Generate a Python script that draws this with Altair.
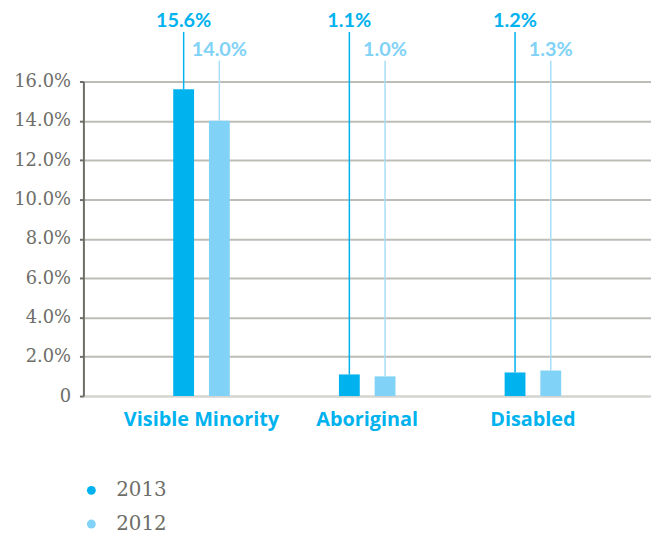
import altair as alt
import pandas as pd

categories = ["Visible Minority", "Aboriginal", "Disabled"]
years = ["2013", "2012"]
values_2013 = [15.6, 1.1, 1.2]
values_2012 = [14.0, 1.0, 1.3]
y_ticks = [0, 2, 4, 6, 8, 10, 12, 14, 16]

c13 = "#00b2ee"
c12 = "#80d2f6"

rows = []
for c, v in zip(categories, values_2013):
    rows.append({"cat": c, "year": "2013", "v": v})
for c, v in zip(categories, values_2012):
    rows.append({"cat": c, "year": "2012", "v": v})
df = pd.DataFrame(rows)
df["label"] = df["v"].map(lambda v: f"{v:.1f}%")

x = alt.X("cat:N", sort=categories,
          scale=alt.Scale(paddingInner=0.6587, paddingOuter=0.542),
          axis=alt.Axis(title=None, labelAngle=0, ticks=False, domain=True,
                        domainColor="#d4d4d0", domainWidth=2,
                        labelFont="Open Sans", labelFontWeight="bold", labelFontSize=20,
                        labelColor=c13, labelPadding=14))
xo = alt.XOffset("year:N", sort=years, scale=alt.Scale(paddingInner=0.4167, paddingOuter=0))
color = alt.Color("year:N", sort=years,
                  scale=alt.Scale(domain=years, range=[c13, c12]),
                  legend=alt.Legend(title=None, orient="none", legendX=-2, legendY=402,
                                    symbolType="circle", symbolSize=80, symbolStrokeWidth=0,
                                    labelFont="DejaVu Serif", labelFontSize=20, labelColor="#6e6e68",
                                    rowPadding=14, labelOffset=15))

y = alt.Y("v:Q", scale=alt.Scale(domain=[0, 16], nice=False),
          axis=alt.Axis(title=None, values=y_ticks, labelOverlap=False,
                        labelExpr="datum.value == 0 ? '0' : format(datum.value, '.1f') + '%'",
                        labelFont="DejaVu Serif", labelFontSize=18, labelColor="#6e6e68",
                        labelPadding=9,
                        domainColor="#6e6e68", domainWidth=2,
                        tickColor="#6e6e68", tickWidth=2, tickSize=4,
                        grid=True,
                        gridColor={"condition": {"test": "datum.value === 0", "value": "#d4d4d0"},
                                   "value": "#bdbdb8"},
                        gridWidth=2))

base = alt.Chart(df)

bars = base.mark_bar().encode(x=x, xOffset=xo, y=y, color=color)

rule13 = base.transform_filter("datum.year == '2013'").mark_rule(color=c13, strokeWidth=1.5).encode(
    x=x, xOffset=xo, y=y, y2=alt.value(-50))
rule12 = base.transform_filter("datum.year == '2012'").mark_rule(color="#a6def8", strokeWidth=1.5).encode(
    x=x, xOffset=xo, y=y, y2=alt.value(-21))
text13 = base.transform_filter("datum.year == '2013'").mark_text(
    color=c13, font="Lato", fontWeight="bold", fontSize=20, baseline="middle").encode(
    x=x, xOffset=xo, y=alt.value(-61), text="label:N")
text12 = base.transform_filter("datum.year == '2012'").mark_text(
    color=c12, font="Lato", fontWeight="bold", fontSize=20, baseline="middle").encode(
    x=x, xOffset=xo, y=alt.value(-32), text="label:N")

chart = alt.layer(bars, rule13, rule12, text13, text12).properties(
    width=572, height=317,
    padding={"left": 5, "top": 1, "right": 0, "bottom": 5},
).configure_view(stroke=None)

chart.save("out.html", embed_options={"renderer": "svg", "actions": False})
